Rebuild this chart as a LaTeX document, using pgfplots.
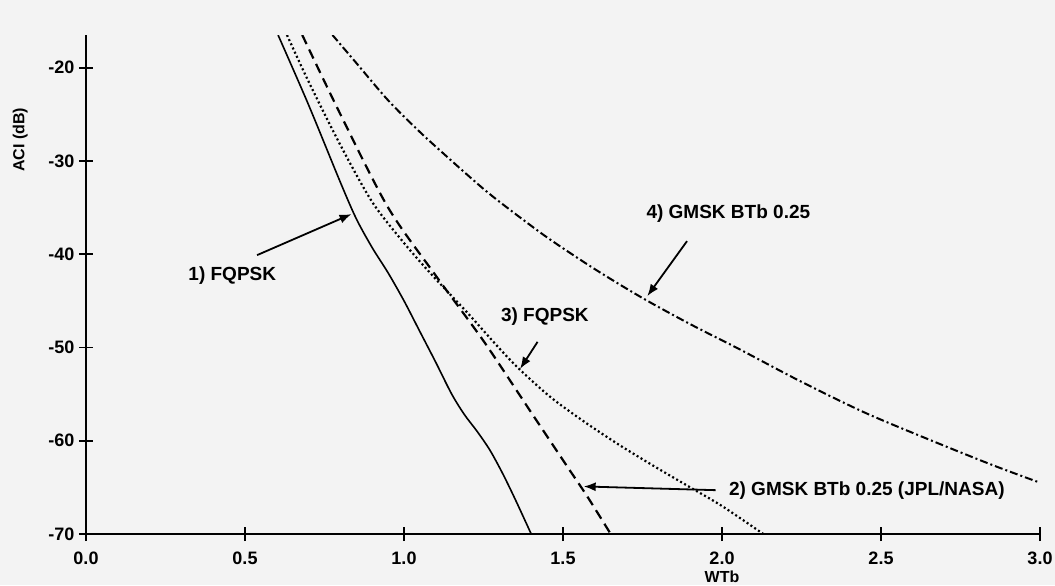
\documentclass[border=0pt]{standalone}
\usepackage{fontspec}
\setmainfont{Liberation Sans}
\usepackage{pgfplots}
\pgfplotsset{compat=1.18}
\usetikzlibrary{arrows.meta}
\definecolor{bg}{RGB}{243,243,243}

\begin{document}
\begin{tikzpicture}[
  arr/.style={-{Latex[length=6pt,width=4.5pt]}, line width=0.9pt},
  lab/.style={font=\fontsize{9.5}{11}\selectfont\bfseries},
]
\fill[bg] (-43pt,-25.5pt) rectangle (484.5pt,267pt);
\path[use as bounding box] (-43pt,-25.5pt) rectangle (484.5pt,267pt);
\begin{axis}[
  at={(0,0)}, anchor=south west,
  scale only axis,
  width=477pt, height=249.5pt,
  xmin=0, xmax=3, ymin=-70, ymax=-16.5,
  axis lines=left,
  axis line style={-},
  x axis line style={line width=1.4pt},
  y axis line style={line width=0.9pt},
  xtick={0,0.5,1,1.5,2,2.5,3},
  ytick={-70,-60,-50,-40,-30,-20},
  tick align=center, major tick length=7pt,
  tick style={line width=0.9pt, black},
  /pgf/number format/assume math mode=true,
  tick label style={font=\fontsize{9}{10}\selectfont\bfseries},
  xticklabel style={yshift=-2pt, /pgf/number format/.cd, fixed, fixed zerofill, precision=1},
  yticklabel style={xshift=1.2pt},
  xlabel={WTb},
  xlabel style={font=\fontsize{8}{9}\selectfont\bfseries,
    at={(axis description cs:0.6667,0)}, anchor=north, yshift=-15pt},
  ylabel={ACI (dB)},
  ylabel style={font=\fontsize{8}{9}\selectfont\bfseries,
    at={(axis description cs:-0.069,0.79)}, anchor=center},
]
% 1) FQPSK
\addplot[black, line width=0.8pt, smooth, tension=0.5] coordinates {
  (0.604,-16.5)(0.70,-24.0)(0.80,-32.3)(0.85,-36.2)(0.90,-39.3)
  (0.95,-42.0)(1.00,-45.0)(1.05,-48.3)(1.10,-51.6)(1.15,-55.0)
  (1.19,-57.2)(1.23,-59.0)(1.27,-61.0)(1.31,-63.5)(1.35,-66.3)(1.40,-70.0)};
% 2) GMSK BTb 0.25 (JPL/NASA)
\addplot[black, line width=1.1pt, dash pattern=on 5pt off 3pt, smooth, tension=0.5] coordinates {
  (0.68,-16.5)(0.80,-25.0)(0.95,-35.0)(1.10,-42.3)(1.25,-49.3)
  (1.385,-56.2)(1.51,-62.6)(1.575,-65.9)(1.65,-70.0)};
% 3) FQPSK
\addplot[black, line width=1.1pt, dash pattern=on 1pt off 1.3pt, smooth, tension=0.5] coordinates {
  (0.632,-16.5)(0.70,-21.5)(0.80,-28.3)(0.90,-34.4)(1.00,-38.8)
  (1.09,-42.3)(1.20,-46.3)(1.30,-50.1)(1.365,-52.4)(1.46,-55.3)
  (1.56,-57.8)(1.67,-60.3)(1.78,-62.6)(1.90,-65.0)(2.00,-67.0)
  (2.13,-70.0)};
% 4) GMSK BTb 0.25
\addplot[black, line width=1.0pt, dash pattern=on 4pt off 1.5pt on 1pt off 1.5pt, smooth, tension=0.5] coordinates {
  (0.775,-16.5)(0.85,-19.5)(0.95,-23.5)(1.05,-26.9)(1.15,-30.0)
  (1.25,-33.0)(1.324,-35.0)(1.45,-38.2)(1.60,-41.6)(1.75,-44.7)
  (1.90,-47.5)(2.05,-50.1)(2.245,-53.6)(2.45,-57.0)(2.66,-60.0)
  (2.85,-62.6)(3.00,-64.5)};

\node[lab] at (axis cs:0.46,-42.3) {1) FQPSK};
\draw[arr] (axis cs:0.538,-40.1) -- (axis cs:0.835,-35.7);
\node[lab] at (axis cs:1.443,-46.7) {3) FQPSK};
\draw[arr] (axis cs:1.42,-49.4) -- (axis cs:1.365,-52.3);
\node[lab] at (axis cs:2.02,-35.6) {4) GMSK BTb 0.25};
\draw[arr] (axis cs:1.89,-38.6) -- (axis cs:1.765,-44.5);
\node[lab, anchor=west] at (axis cs:2.0,-65.3) {2) GMSK BTb 0.25 (JPL/NASA)};
\draw[arr] (axis cs:1.98,-65.3) -- (axis cs:1.565,-64.9);
\end{axis}
\end{tikzpicture}
\end{document}
